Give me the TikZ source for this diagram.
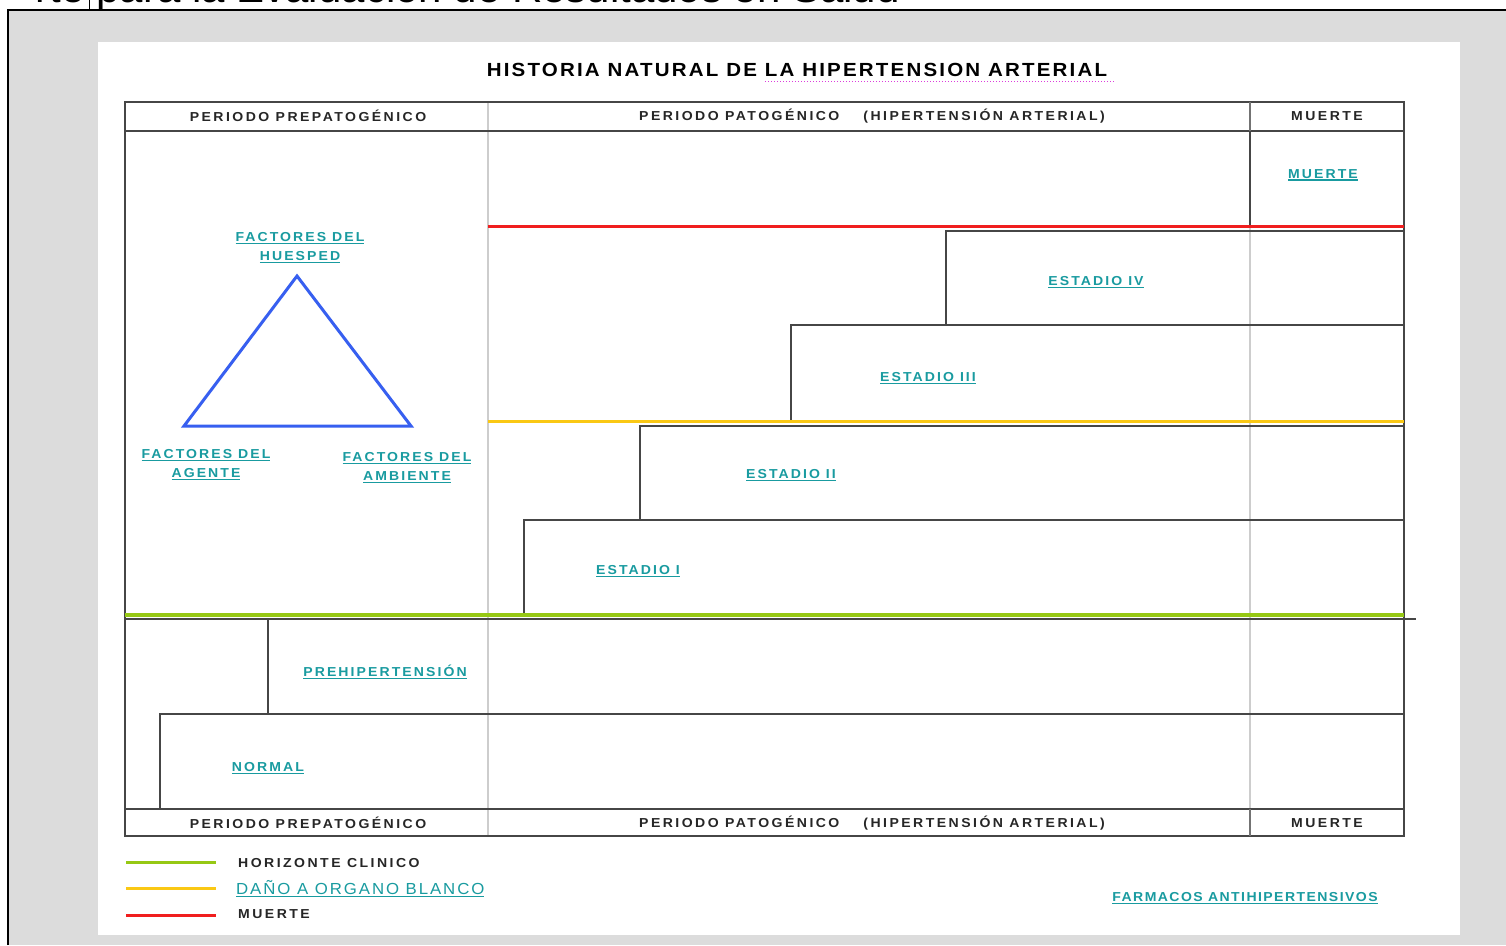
\documentclass[tikz,border=0pt]{standalone}
\usepackage{fontspec}
\setmainfont{Liberation Sans}
\newfontfamily\hdrf[LetterSpace=19,FakeStretch=1.08]{Liberation Sans}
\newfontfamily\lblf[LetterSpace=16,FakeStretch=1.08]{Liberation Sans}
\newfontfamily\titf[LetterSpace=11.5,FakeStretch=1.08]{Liberation Sans}
\newfontfamily\legf[LetterSpace=12,FakeStretch=1.05]{Liberation Sans}
\newfontfamily\farf[LetterSpace=11,FakeStretch=1.08]{Liberation Sans}
\definecolor{bggray}{RGB}{220,220,220}
\definecolor{dkline}{RGB}{70,70,70}
\definecolor{ltline}{RGB}{205,205,205}
\definecolor{tealc}{RGB}{25,155,160}
\definecolor{blueT}{RGB}{55,95,240}
\definecolor{redL}{RGB}{240,30,30}
\definecolor{yelL}{RGB}{250,200,20}
\definecolor{grnL}{RGB}{150,200,20}
\definecolor{magc}{RGB}{220,60,220}
\newcommand{\ulx}[1]{\setbox0=\hbox{#1}\rlap{\copy0}\rule[-2.8pt]{\wd0}{1.4pt}}
\tikzset{
  dk/.style={draw=dkline, line width=2pt},
  lt/.style={draw=ltline, line width=2pt},
  hdr/.style={inner sep=0pt, font=\hdrf\bfseries\fontsize{13}{14}\selectfont, text=black!85},
  lbl/.style={inner sep=0pt, align=center, text=tealc, font=\lblf\bfseries\fontsize{13}{19}\selectfont},
  legtxt/.style={inner sep=0pt, anchor=west, text=black!85, font=\hdrf\bfseries\fontsize{13}{14}\selectfont},
  colline/.style={line width=3pt}
}
\begin{document}
\begin{tikzpicture}[x=1pt,y=-1pt]
\useasboundingbox (0,0) rectangle (1506,945);
% page background and frame
\fill[bggray] (8,10) rectangle (1506,945);
\draw[black, line width=1.5pt] (8,945) -- (8,10) -- (1506,10);
\draw[black, line width=1pt] (89,0) -- (89,10);
\node[anchor=base east, inner sep=0pt, font=\fontsize{42}{48}\selectfont] (toptext) at (900,2) {rte para la Evaluación de Resultados en Salud};
\fill[white] (98,42) rectangle (1460,935);
% title
\node[inner sep=0pt, font=\titf\bfseries\fontsize{19}{22}\selectfont] (title) at (797,70) {HISTORIA NATURAL DE LA HIPERTENSION ARTERIAL};
\draw[magc, line width=1pt, dotted] (765,81) -- (1114,81);
% column lines
\draw[lt] (488,102) -- (488,836);
\draw[lt] (1250,131) -- (1250,809);
% table frame, header and footer
\draw[dk] (125,102) rectangle (1404,836);
\draw[dk] (125,131) -- (1404,131);
\draw[dk] (125,809) -- (1404,809);
\draw[draw=black!55, line width=1.5pt] (1250,102) -- (1250,131);
\draw[draw=black!55, line width=1.5pt] (1250,809) -- (1250,836);
\node[hdr] (h1) at (308,116) {PERIODO PREPATOGÉNICO};
\node[hdr] (h2) at (872,116) {PERIODO PATOGÉNICO\hspace{24pt}(HIPERTENSIÓN ARTERIAL)};
\node[hdr] (h3) at (1327,116) {MUERTE};
\node[hdr] (f1) at (308,823) {PERIODO PREPATOGÉNICO};
\node[hdr] (f2) at (872,823) {PERIODO PATOGÉNICO\hspace{24pt}(HIPERTENSIÓN ARTERIAL)};
\node[hdr] (f3) at (1327,823) {MUERTE};
% muerte column
\draw[dk] (1250,131) -- (1250,226);
\draw[redL, colline] (488,226) -- (1404,226);
\node[lbl] (muerte) at (1323,175) {\ulx{MUERTE}};
% stages
\draw[dk] (946,325) -- (946,231) -- (1404,231);
\node[lbl] (e4) at (1096,282) {\ulx{ESTADIO\hspace{6pt}IV}};
\draw[dk] (791,420) -- (791,325) -- (1404,325);
\node[lbl] (e3) at (928,378) {\ulx{ESTADIO\hspace{6pt}III}};
\draw[yelL, colline] (488,421) -- (1404,421);
\draw[dk] (640,520) -- (640,426) -- (1404,426);
\node[lbl] (e2) at (791,475) {\ulx{ESTADIO\hspace{6pt}II}};
\draw[dk] (524,615) -- (524,520) -- (1404,520);
\node[lbl] (e1) at (638,571) {\ulx{ESTADIO\hspace{6pt}I}};
\draw[dk] (125,619) -- (1416,619);
\draw[grnL, line width=3.5pt] (125,615) -- (1404,615);
\draw[dk] (268,619) -- (268,714);
\node[lbl] (pre) at (385,672) {\ulx{PREHIPERTENSIÓN}};
\draw[dk] (160,809) -- (160,714) -- (1404,714);
\node[lbl] (normal) at (268,768) {\ulx{NORMAL}};
% epidemiological triangle
\coordinate (apex) at (297,276);
\coordinate (bl) at (184,426);
\coordinate (br) at (411,426);
\draw[blueT, line width=3pt, line join=miter] (apex) -- (bl) -- (br) -- cycle;
\node[lbl] (huesped) at (300,248) {\ulx{FACTORES DEL}\\\ulx{HUESPED}};
\node[lbl] (agente) at (206,465) {\ulx{FACTORES DEL}\\\ulx{AGENTE}};
\node[lbl] (ambiente) at (407,468) {\ulx{FACTORES DEL}\\\ulx{AMBIENTE}};
% legend
\draw[grnL, colline] (126,862) -- (216,862);
\draw[yelL, colline] (126,888) -- (216,888);
\draw[redL, colline] (126,915) -- (216,915);
\node[legtxt] (lg1) at (238,863) {HORIZONTE CLINICO};
\node[inner sep=0pt, anchor=west, text=tealc, font=\legf\fontsize{16}{18}\selectfont] (lg2) at (236,889) {\ulx{DAÑO A ORGANO BLANCO}};
\node[legtxt] (lg3) at (238,914) {MUERTE};
\node[inner sep=0pt, text=tealc, font=\farf\bfseries\fontsize{13}{14}\selectfont] (farm) at (1245,898) {\ulx{FARMACOS ANTIHIPERTENSIVOS}};
\end{tikzpicture}
\end{document}
